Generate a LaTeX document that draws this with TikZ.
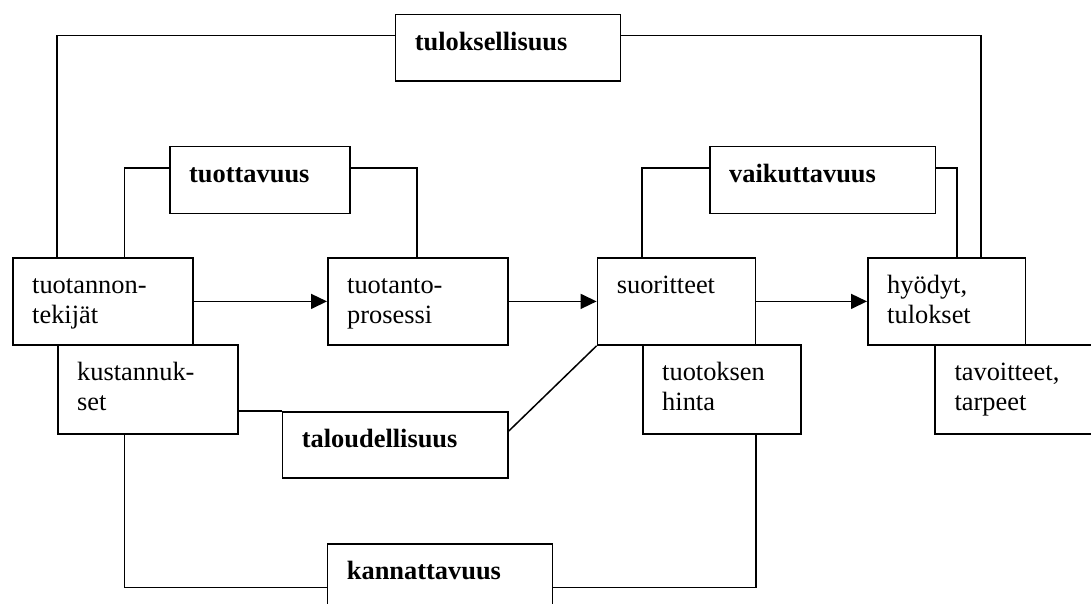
\documentclass[tikz,border=0pt]{standalone}
\usepackage{fontspec}
\setmainfont{Liberation Serif}
\usetikzlibrary{arrows.meta,calc}
\tikzset{
  box/.style={draw, line width=1.5pt, inner sep=0pt, anchor=north west, rectangle},
  lbl/.style={inner sep=0pt, anchor=north west, align=left, font=\fontsize{26.4}{30}\selectfont},
  blbl/.style={lbl, font=\fontsize{26.4}{30}\selectfont\bfseries},
  conn/.style={line width=1.5pt},
  arr/.style={conn, -{Triangle[length=16pt,width=15pt]}}
}
\begin{document}
\begin{tikzpicture}[x=1pt,y=-1pt]
\useasboundingbox (0,0) rectangle (1091,604);
\clip (0,0) rectangle (1091,604);
% boxes
\node[box, minimum width=225pt, minimum height=66.3pt] (tul) at (394.6,14) {};
\node[box, minimum width=180pt, minimum height=66.5pt] (tuo) at (169,146) {};
\node[box, minimum width=225.6pt, minimum height=66.5pt] (vai) at (709,146) {};
\node[box, minimum width=180pt, minimum height=87.3pt] (tek) at (12,257) {};
\node[box, minimum width=180pt, minimum height=87.3pt] (pro) at (327,257) {};
\node[box, minimum width=158pt, minimum height=87.3pt] (suo) at (596.6,257) {};
\node[box, minimum width=157.6pt, minimum height=87.3pt] (hyo) at (867,257) {};
\node[box, minimum width=180pt, minimum height=88.7pt] (kus) at (57,344.3) {};
\node[box, minimum width=225.6pt, minimum height=66pt] (tal) at (281.7,411) {};
\node[box, minimum width=158pt, minimum height=88.7pt] (hin) at (642,344.3) {};
\node[box, minimum width=162pt, minimum height=88.7pt] (tav) at (934.3,344.3) {};
\node[box, minimum width=225pt, minimum height=66pt] (kan) at (326.7,543.3) {};
% labels
\node[blbl] (tulT) at ([shift={(20,15)}]tul.north west) {\strut tuloksellisuus};
\node[blbl] (tuoT) at ([shift={(20,15)}]tuo.north west) {\strut tuottavuus};
\node[blbl] (vaiT) at ([shift={(20,15)}]vai.north west) {\strut vaikuttavuus};
\node[lbl] (tekT) at ([shift={(20,15)}]tek.north west) {\strut tuotannon-\\tekijät};
\node[lbl] (proT) at ([shift={(20,15)}]pro.north west) {\strut tuotanto-\\prosessi};
\node[lbl] (suoT) at ([shift={(20,15)}]suo.north west) {\strut suoritteet};
\node[lbl] (hyoT) at ([shift={(20,15)}]hyo.north west) {\strut hyödyt,\\tulokset};
\node[lbl] (kusT) at ([shift={(20,15)}]kus.north west) {\strut kustannuk-\\set};
\node[blbl] (talT) at ([shift={(20,15)}]tal.north west) {\strut taloudellisuus};
\node[lbl] (hinT) at ([shift={(20,15)}]hin.north west) {\strut tuotoksen\\hinta};
\node[lbl] (tavT) at ([shift={(20,15)}]tav.north west) {\strut tavoitteet,\\tarpeet};
\node[blbl] (kanT) at ([shift={(20,15)}]kan.north west) {\strut kannattavuus};
% connectors
\draw[conn] ([xshift=45pt]tek.north west) |- ([yshift=-21.7pt]tul.north west);
\draw[conn] ([yshift=-21.7pt]tul.north east) -| ([xshift=-45.1pt]hyo.north east);
\draw[conn] ([xshift=112.3pt]tek.north west) |- ([yshift=-22pt]tuo.north west);
\draw[conn] ([yshift=-22pt]tuo.north east) -| ([xshift=90pt]pro.north west);
\draw[conn] ([xshift=45.4pt]suo.north west) |- ([yshift=-22pt]vai.north west);
\draw[conn] ([yshift=-22pt]vai.north east) -| ([xshift=90pt]hyo.north west);
\draw[arr] (tek.east) -- (pro.west);
\draw[arr] (pro.east) -- (suo.west);
\draw[arr] (suo.east) -- (hyo.west);
\draw[conn] (kus.east |- tal.north west) -- (tal.north west);
\draw[conn] ([yshift=-20pt]tal.north east) -- (suo.south west);
\draw[conn] ([xshift=67.3pt]kus.south west) |- ([yshift=-44.4pt]kan.north west);
\draw[conn] ([yshift=-44.4pt]kan.north east) -| (suo.east |- hin.south);
\end{tikzpicture}
\end{document}
